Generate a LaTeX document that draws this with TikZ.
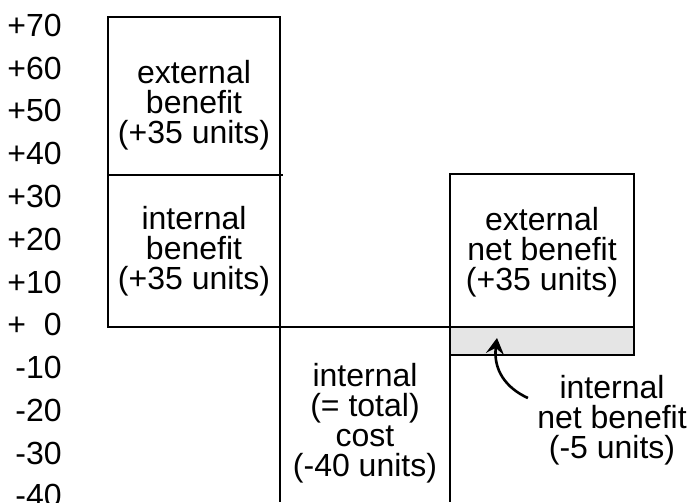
\documentclass[tikz,border=0pt]{standalone}
\usepackage{fontspec}
\setmainfont{Liberation Sans}
\usetikzlibrary{arrows.meta}
\tikzset{
  barline/.style={line width=1.3pt},
  shortfall/.style={barline, fill=black!10},
  barlabel/.style={align=center, inner sep=0pt},
  ticklab/.style={anchor=base east, inner sep=0pt},
  bendarrow/.style={-{Stealth[length=8pt, width=9pt, inset=3pt]}, line width=1.3pt}
}

\begin{document}
\begin{tikzpicture}[x=0.5pt, y=-0.5pt, every node/.style={font=\fontsize{16}{15}\selectfont}]
  \useasboundingbox (0,0) rectangle (688,502);

  % scale on the left
  \foreach \lab [count=\i from 0] in {+70,+60,+50,+40,+30,+20,+10,+\phantom{0}0,-10,-20,-30,-40}
    \node[ticklab] (tick\i) at (62,36.5+42.75*\i) {\lab};

  % benefit bar (internal + external)
  \draw[barline] (108,17) rectangle (280,327);
  \draw[barline] (108,175) -- (283,175);
  % cost bar, running off the bottom
  \draw[barline] (108,327) -- (450,327);
  \draw[barline] (280,327) -- (280,502);
  % net bar
  \draw[shortfall] (450,327) rectangle (634,355);
  \draw[barline] (450,174) rectangle (634,327);
  \draw[barline] (450,327) -- (450,502);

  \node[barlabel] (extben) at (194,105) {external\\ benefit\\ (+35 units)};
  \node[barlabel] (intben) at (194,251) {internal\\ benefit\\ (+35 units)};
  \node[barlabel] (cost) at (365,423) {internal\\ (= total)\\ cost\\ (-40 units)};
  \node[barlabel] (extnet) at (542,252) {external\\ net benefit\\ (+35 units)};
  \node[barlabel] (intnet) at (612,420) {internal\\ net benefit\\ (-5 units)};

  \coordinate (dip) at (497,338);
  \draw[bendarrow] ([shift={(-9,-22)}]intnet.west) .. controls (506,388) and (493,370) .. (dip);
\end{tikzpicture}
\end{document}
